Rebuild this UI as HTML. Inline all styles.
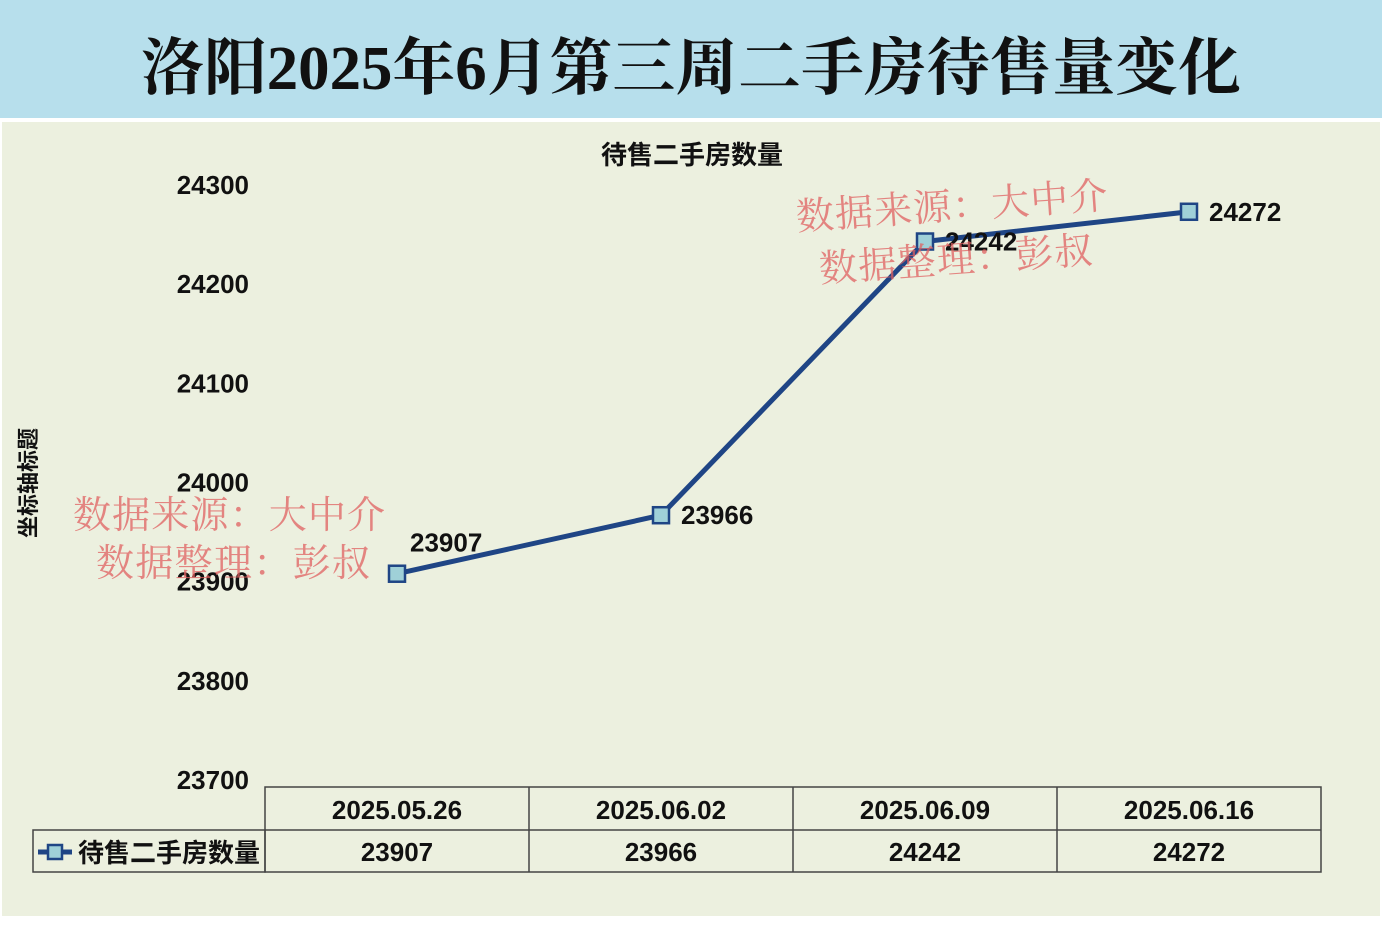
<!DOCTYPE html>
<html><head><meta charset="utf-8"><style>
body{margin:0;width:1382px;height:924px;background:#fff;overflow:hidden}
</style></head><body>
<svg width="1382" height="924" xmlns="http://www.w3.org/2000/svg">
<rect x="0" y="0" width="1382" height="118" fill="#b7dfec"/>
<text x="691" y="89" text-anchor="middle" textLength="1100" lengthAdjust="spacingAndGlyphs" font-family="'Liberation Serif','Noto Serif CJK SC',serif" font-size="62" font-weight="bold" fill="#111">洛阳2025年6月第三周二手房待售量变化</text>
<rect x="2" y="122" width="1378" height="794" fill="#ecf0df"/>
<text x="692" y="164" text-anchor="middle" font-family="'Liberation Sans','Noto Sans CJK SC',sans-serif" font-size="26" font-weight="bold" fill="#111">待售二手房数量</text>
<text transform="translate(36,483) rotate(-90)" text-anchor="middle" font-family="'Liberation Sans','Noto Sans CJK SC',sans-serif" font-size="22" font-weight="bold" fill="#111">坐标轴标题</text>
<g id="yticks"></g>
<g id="table"></g>
<g id="series"></g>
<g font-family="'Liberation Serif','Noto Serif CJK SC',serif" font-size="38" fill="#e06060" opacity="0.75">
<text x="73" y="528" textLength="312">数据来源：大中介</text>
<text x="96" y="576" textLength="274">数据整理：彭叔</text>
<text x="797" y="230" textLength="312" transform="rotate(-4 797 230)">数据来源：大中介</text>
<text x="820" y="282" textLength="274" transform="rotate(-4 820 282)">数据整理：彭叔</text>
</g>
</svg>
<script>
const categories=["2025.05.26","2025.06.02","2025.06.09","2025.06.16"];
const values=[23907,23966,24242,24272];
const yTicks=[23700,23800,23900,24000,24100,24200,24300];
const NS="http://www.w3.org/2000/svg";
const yMin=23700,yMax=24300,yTop=184,yBot=779;
function y(v){return yBot-(v-yMin)/(yMax-yMin)*(yBot-yTop);}
const colL=265,colW=264;
function x(i){return colL+colW*(i+0.5);}
function mk(tag,attrs,parent,txt){const e=document.createElementNS(NS,tag);for(const k in attrs)e.setAttribute(k,attrs[k]);if(txt!==undefined)e.textContent=txt;parent.appendChild(e);return e;}
const F="'Liberation Sans','Noto Sans CJK SC',sans-serif";
const yt=document.getElementById('yticks');
yTicks.forEach(t=>{const e=mk('text',{x:249,y:y(t)+10,'text-anchor':'end','font-family':F,'font-size':26,'font-weight':'bold',fill:'#111'},yt,t);

});
const tb=document.getElementById('table');
const st={stroke:'#444','stroke-width':1.5,fill:'none'};
const r1=mk('rect',Object.assign({x:colL,y:787,width:colW*4,height:85},st),tb);


mk('rect',Object.assign({x:33,y:830,width:colL-33,height:42},st),tb);
mk('line',Object.assign({x1:colL,y1:830,x2:colL+colW*4,y2:830},st),tb);
for(let i=1;i<4;i++)mk('line',Object.assign({x1:colL+colW*i,y1:787,x2:colL+colW*i,y2:872},st),tb);
categories.forEach((c,i)=>{const e=mk('text',{x:x(i),y:819,'text-anchor':'middle','font-family':F,'font-size':26,'font-weight':'bold',fill:'#111'},tb,c);


const v=mk('text',{x:x(i),y:861,'text-anchor':'middle','font-family':F,'font-size':26,'font-weight':'bold',fill:'#111'},tb,values[i]);

});
const lg=mk('g',{},tb);


mk('line',{x1:38,y1:852,x2:72,y2:852,stroke:'#1f4585','stroke-width':5},lg);
mk('rect',{x:48,y:845,width:14,height:14,fill:'#9fd0d8',stroke:'#1f4585','stroke-width':2.5},lg);
mk('text',{x:78,y:862,'font-family':F,'font-size':26,'font-weight':'bold',fill:'#111'},lg,'待售二手房数量');
const sg=document.getElementById('series');
const pl=mk('polyline',{points:values.map((v,i)=>x(i)+','+y(v)).join(' '),fill:'none',stroke:'#1f4585','stroke-width':5,'stroke-linejoin':'round'},sg);


values.forEach((v,i)=>{const m=mk('rect',{x:x(i)-8,y:y(v)-8,width:16,height:16,fill:'#9fd0d8',stroke:'#1f4585','stroke-width':2.5},sg);


const lx=i===0?x(i)+13:x(i)+20,ly=i===0?y(v)-22:y(v)+9;
const l=mk('text',{x:lx,y:ly,'font-family':F,'font-size':26,'font-weight':'bold',fill:'#111'},sg,v);

});
</script>
</body></html>
